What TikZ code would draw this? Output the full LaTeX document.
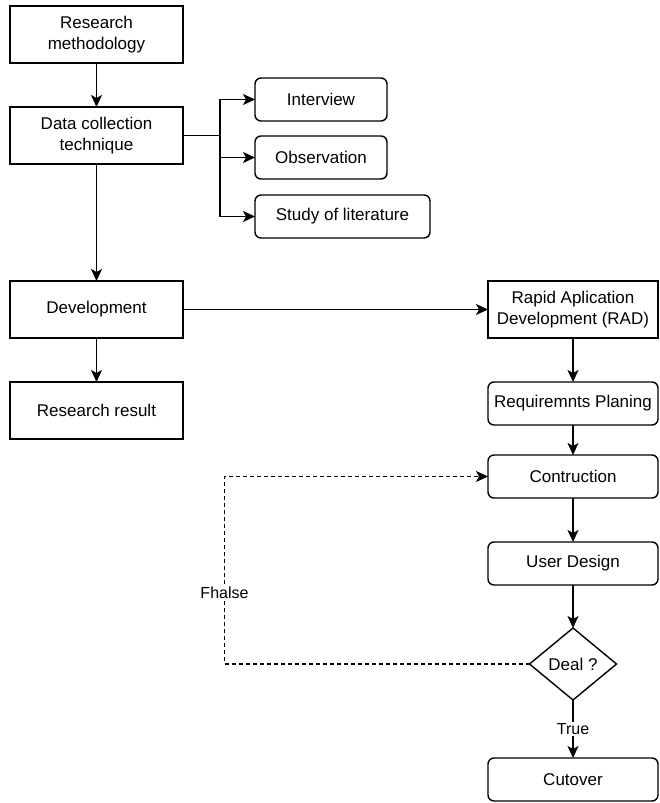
\documentclass[tikz,border=0pt]{standalone}
\usepackage{fontspec}
\setmainfont{Liberation Sans}
\usetikzlibrary{positioning}
\usetikzlibrary{arrows.meta}
\usetikzlibrary{shapes.geometric}

\begin{document}
\begin{tikzpicture}[x=1pt, y=-1pt, line width=1.4pt,
    font=\fontsize{17}{21}\selectfont,
    every node/.style={outer sep=0pt},
    box/.style={draw, minimum width=173pt, minimum height=57pt, align=center, inner sep=2pt},
    rbox/.style={draw, rounded corners=6pt, minimum width=170pt, minimum height=43pt, align=center, inner sep=2pt},
    sbox/.style={rbox, minimum width=132pt},
    decision/.style={draw, diamond, aspect=1.2, minimum width=87pt, minimum height=72pt, inner sep=0pt},
    lbl/.style={fill=white, inner sep=1pt, font=\fontsize{16}{19}\selectfont},
    arr/.style={-{Stealth[length=12pt, width=11pt, inset=3pt]}}]
    \useasboundingbox (0,0) rectangle (659,803);

    \node[box] (RM) at (96.5,34.5) {Research\\methodology};
    \node[box] (DC) [below=44pt of RM] {Data collection\\technique};
    \node[box] (Dev) [below=117pt of DC] {Development};
    \node[box] (Res) [below=44pt of Dev] {Research result};

    \node[sbox, anchor=west] (Int) at ([xshift=72pt, yshift=36pt]DC.east) {Interview};
    \node[sbox] (Obs) [below=15pt of Int] {Observation};
    \node[sbox, minimum width=175pt] (Lit) [below right=16pt and 0pt of Obs.south west] {Study of literature};

    \node[box, minimum width=170pt] (RAD) [right=305pt of Dev] {Rapid Aplication\\Development (RAD)};
    \node[rbox] (Req) [below=44pt of RAD] {Requiremnts Planing};
    \node[rbox] (Con) [below=30pt of Req] {Contruction};
    \node[rbox] (UD) [below=44pt of Con] {User Design};
    \node[decision] (Deal) [below=43pt of UD] {Deal ?};
    \node[rbox] (Cut) [below=58pt of Deal] {Cutover};

    \draw[arr] (RM) -- (DC);
    \draw (DC.east) -- ++(37,0) coordinate (br);
    \draw[arr] (br) |- (Int);
    \draw[arr] (br) |- (Obs);
    \draw[arr] (br) |- (Lit);
    \draw[arr] (DC) -- (Dev);
    \draw[arr] (Dev) -- (Res);
    \draw[arr] (Dev) -- (RAD);

    \draw[arr] (RAD) -- (Req);
    \draw[arr] (Req) -- (Con);
    \draw[arr] (Con) -- (UD);
    \draw[arr] (UD) -- (Deal);
    \draw[arr] (Deal) -- node[lbl] {True} (Cut);
    \draw[arr, dash pattern=on 4pt off 3pt] (Deal.west) -- ++(-305,0) |- node[lbl, pos=0.19] {Fhalse} (Con.west);
\end{tikzpicture}
\end{document}
